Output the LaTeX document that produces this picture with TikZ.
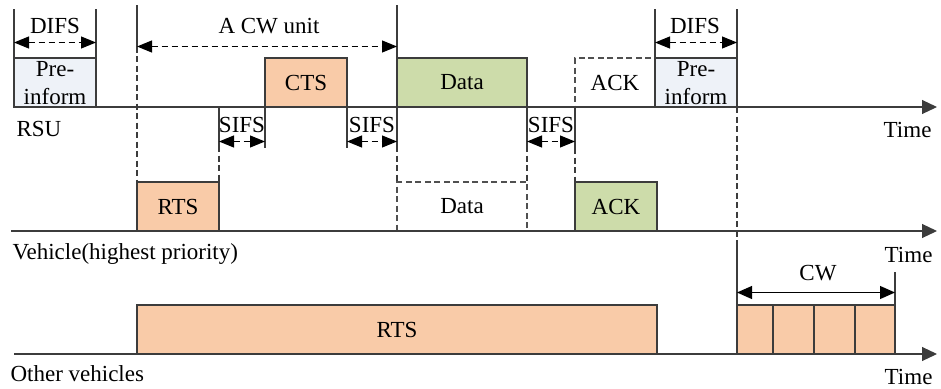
\documentclass[tikz,border=0pt]{standalone}
\usepackage{fontspec}
\setmainfont{Liberation Serif}
\usetikzlibrary{arrows.meta}
\definecolor{peach}{RGB}{249,203,168}
\definecolor{leaf}{RGB}{205,220,170}
\definecolor{pale}{RGB}{238,242,248}
\definecolor{ink}{RGB}{60,60,60}
\begin{document}
\begin{tikzpicture}[x=1pt,y=-1pt,
  font=\fontsize{23}{27}\selectfont,
  line width=1.1pt,
  line/.style={draw=ink},
  frame/.style={draw=ink, line width=1.1pt, inner sep=0pt, outer sep=0pt,
    anchor=north west, minimum height=49pt},
  ghost/.style={frame, dash pattern=on 6pt off 3.5pt, draw=ink!90},
  guide/.style={draw=ink, dash pattern=on 6pt off 3.5pt},
  axis/.style={draw=ink, -{Triangle[length=15pt,width=14pt]}},
  span/.style={draw=black, dash pattern=on 6pt off 4pt,
    {Triangle[length=15pt,width=12pt]}-{Triangle[length=15pt,width=12pt]}},
  solidspan/.style={draw=black,
    {Triangle[length=15pt,width=13pt]}-{Triangle[length=15pt,width=13pt]}},
  txt/.style={anchor=base, inner sep=0pt},
  lefttxt/.style={anchor=base west, inner sep=0pt},
  righttxt/.style={anchor=base east, inner sep=0pt}]
\useasboundingbox (0,0) rectangle (941,388);

% ---------------- RSU row ----------------
\node[frame, fill=pale, minimum width=82pt] (pre1) at (14,58) {};
\node[frame, fill=peach, minimum width=82pt] (cts) at (265,58) {CTS};
\node[frame, fill=leaf, minimum width=130pt] (data) at (397,58) {Data};
\node[ghost, minimum width=80pt] (ackr) at (575,58) {ACK};
\node[frame, fill=pale, minimum width=82pt] (pre2) at (655,58) {};
\node[txt] (pre1a) at (55,76) {Pre-};
\node[txt] (pre1b) at (55,104) {inform};
\node[txt] (pre2a) at (696,76) {Pre-};
\node[txt] (pre2b) at (696,104) {inform};

\coordinate (rsuL) at (14,107);
\coordinate (rsuR) at (937,107);
\draw[axis] (rsuL) -- (rsuR);
\node[lefttxt] (rsu) at (16,136) {RSU};
\node[righttxt] (time1) at (932,137) {Time};

% ---------------- Vehicle (highest priority) row ----------------
\node[frame, fill=peach, minimum width=82pt] (rtsv) at (137,182) {RTS};
\node[ghost, minimum width=130pt] (datav) at (397,182) {Data};
\node[frame, fill=leaf, minimum width=82pt] (ackv) at (575,182) {ACK};

\coordinate (vehL) at (11,231);
\coordinate (vehR) at (937,231);
\draw[axis] (vehL) -- (vehR);
\node[lefttxt] (veh) at (12,259) {Vehicle(highest priority)};
\node[righttxt] (time2) at (933,262) {Time};

% ---------------- Other vehicles row ----------------
\node[frame, fill=peach, minimum width=520pt] (rtso) at (137,305) {RTS};
\node[frame, fill=peach, minimum width=36pt] (cw1) at (737,305) {};
\node[frame, fill=peach, minimum width=41pt] (cw2) at (773,305) {};
\node[frame, fill=peach, minimum width=41pt] (cw3) at (814,305) {};
\node[frame, fill=peach, minimum width=40pt] (cw4) at (855,305) {};

\coordinate (othL) at (14,354);
\coordinate (othR) at (937,354);
\draw[axis] (othL) -- (othR);
\node[lefttxt] (oth) at (10,381) {Other vehicles};
\node[righttxt] (time3) at (933,384) {Time};

% ---------------- DIFS markers ----------------
\coordinate (d1a) at (14,9);
\coordinate (d1b) at (96,9);
\draw[line] (d1a) -- (pre1.north west);
\draw[line] (d1b) -- (pre1.north east);
\coordinate (d1l) at (14,42.5);
\coordinate (d1r) at (96,42.5);
\draw[span] (d1l) -- (d1r);
\node[txt] (difs1) at (55,33) {DIFS};

\coordinate (d2a) at (655,9);
\coordinate (d2b) at (737,9);
\draw[line] (d2a) -- (pre2.north west);
\draw[line] (d2b) -- (pre2.north east);
\coordinate (d2l) at (655,42.5);
\coordinate (d2r) at (737,42.5);
\draw[span] (d2l) -- (d2r);
\node[txt] (difs2) at (695,33) {DIFS};

% ---------------- A CW unit ----------------
\coordinate (cwuTop) at (137,5);
\coordinate (cwuL) at (137,46.5);
\coordinate (cwuR) at (397,46.5);
\coordinate (dataTop) at (397,5);
\draw[line] (cwuTop) -- (cwuL);
\draw[guide] (cwuL) -- (rtsv.north west);
\draw[line] (dataTop) -- (data.north west);
\draw[span] (cwuL) -- (cwuR);
\node[txt] (cwunit) at (269,33) {A CW unit};

% ---------------- SIFS markers ----------------
% first SIFS: RTS end to CTS start
\coordinate (s1a) at (219,107);
\coordinate (s1b) at (219,146);
\coordinate (s1c) at (265,148);
\draw[line] (s1a) -- (s1b);
\draw[guide] (s1b) -- (rtsv.north east);
\draw[line] (cts.south west) -- (s1c);
\coordinate (s1l) at (219,141.5);
\coordinate (s1r) at (265,141.5);
\draw[span] (s1l) -- (s1r);
\node[txt] (sifs1) at (242,132) {SIFS};

% second SIFS: CTS end to Data start
\coordinate (s2c) at (347,148);
\coordinate (s2d) at (397,146);
\draw[line] (cts.south east) -- (s2c);
\draw[line] (data.south west) -- (s2d);
\draw[guide] (s2d) -- (datav.north west);
\coordinate (s2l) at (347,141.5);
\coordinate (s2r) at (397,141.5);
\draw[span] (s2l) -- (s2r);
\node[txt] (sifs2) at (372,132) {SIFS};

% third SIFS: Data end to ACK start
\coordinate (s3c) at (527,146);
\coordinate (s3d) at (575,148);
\draw[line] (data.south east) -- (s3c);
\draw[guide] (s3c) -- (datav.north east);
\draw[line] (ackr.south west) -- (s3d);
\draw[guide] (s3d) -- (ackv.north west);
\coordinate (s3l) at (527,141.5);
\coordinate (s3r) at (575,141.5);
\draw[span] (s3l) -- (s3r);
\node[txt] (sifs3) at (551,132) {SIFS};

% ---------------- CW window ----------------
\coordinate (cwDash) at (737,243);
\coordinate (cwTopR) at (895,272);
\draw[guide] (pre2.south east) -- (cwDash);
\draw[line] (cwDash) -- (cw1.north west);
\draw[line] (cwTopR) -- (cw4.north east);
\coordinate (cwl) at (737,292.5);
\coordinate (cwr) at (895,292.5);
\draw[solidspan] (cwl) -- (cwr);
\node[txt] (cwlabel) at (818,280) {CW};
\end{tikzpicture}
\end{document}
